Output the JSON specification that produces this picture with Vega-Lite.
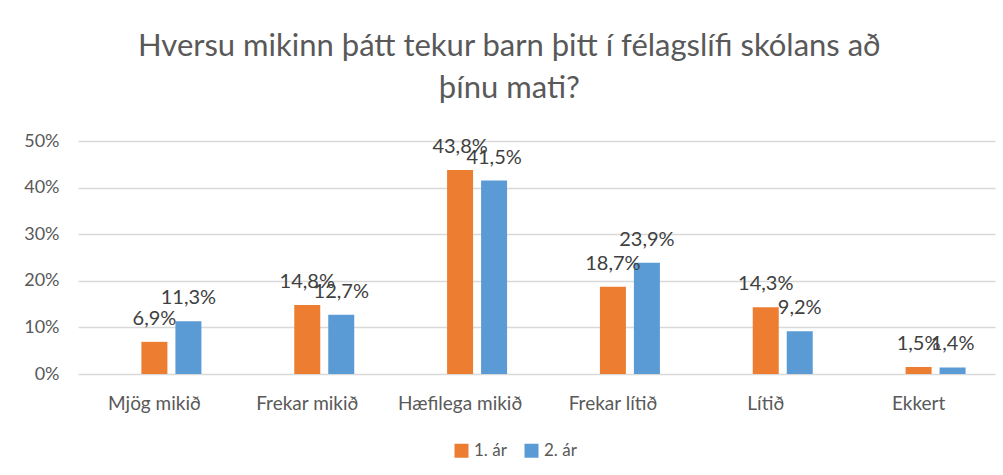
{
  "$schema": "https://vega.github.io/schema/vega-lite/v6.json",
  "width": 917,
  "height": 233,
  "autosize": {"type": "none"},
  "padding": {"left": 78, "top": 141, "right": 8, "bottom": 101},
  "background": "white",
  "config": {
    "locale": {"number": {"decimal": ",", "thousands": ".", "grouping": [3], "currency": ["", " kr."]}},
    "view": {"stroke": null},
    "font": "Lato"
  },
  "title": {
    "text": ["Hversu mikinn þátt tekur barn þitt í félagslífi skólans að", "þínu mati?"],
    "fontSize": 31,
    "font": "Lato",
    "fontWeight": "normal",
    "color": "#595959",
    "anchor": "middle",
    "frame": "bounds",
    "lineHeight": 42,
    "offset": 27
  },
  "data": {
    "values": [
      {"category": "Mjög mikið", "year": "1. ár", "value": 0.069},
      {"category": "Mjög mikið", "year": "2. ár", "value": 0.113},
      {"category": "Frekar mikið", "year": "1. ár", "value": 0.148},
      {"category": "Frekar mikið", "year": "2. ár", "value": 0.127},
      {"category": "Hæfilega mikið", "year": "1. ár", "value": 0.438},
      {"category": "Hæfilega mikið", "year": "2. ár", "value": 0.415},
      {"category": "Frekar lítið", "year": "1. ár", "value": 0.187},
      {"category": "Frekar lítið", "year": "2. ár", "value": 0.239},
      {"category": "Lítið", "year": "1. ár", "value": 0.143},
      {"category": "Lítið", "year": "2. ár", "value": 0.092},
      {"category": "Ekkert", "year": "1. ár", "value": 0.015},
      {"category": "Ekkert", "year": "2. ár", "value": 0.014}
    ]
  },
  "encoding": {
    "x": {
      "field": "category",
      "type": "nominal",
      "sort": ["Mjög mikið", "Frekar mikið", "Hæfilega mikið", "Frekar lítið", "Lítið", "Ekkert"],
      "scale": {"paddingInner": 0.385, "paddingOuter": 0.1925},
      "axis": {
        "title": null,
        "labelAngle": 0,
        "domain": false,
        "ticks": false,
        "labelPadding": 20,
        "labelFontSize": 19,
        "labelColor": "#595959",
        "labelFont": "Lato"
      }
    },
    "xOffset": {
      "field": "year",
      "type": "nominal",
      "scale": {"domain": ["_", "1. ár", "2. ár"], "paddingInner": 0.235, "paddingOuter": 0}
    },
    "y": {
      "field": "value",
      "type": "quantitative",
      "scale": {"domain": [0, 0.5]},
      "axis": {
        "title": null,
        "format": ".0%",
        "values": [0, 0.1, 0.2, 0.3, 0.4, 0.5],
        "domain": false,
        "ticks": false,
        "labelPadding": 19,
        "labelFontSize": 18,
        "labelColor": "#595959",
        "labelFont": "Lato",
        "gridColor": "#d9d9d9",
        "gridWidth": 1.5
      }
    }
  },
  "layer": [
    {
      "mark": {"type": "bar"},
      "encoding": {
        "color": {
          "field": "year",
          "type": "nominal",
          "scale": {"domain": ["1. ár", "2. ár"], "range": ["#ED7D31", "#5B9BD5"]},
          "legend": {
            "orient": "none",
            "legendX": 375,
            "legendY": 301,
            "title": null,
            "direction": "horizontal",
            "symbolType": "square",
            "symbolSize": 196,
            "symbolStrokeWidth": 0,
            "labelFontSize": 17,
            "labelColor": "#595959",
            "labelFont": "Lato",
            "columnPadding": 16,
            "labelOffset": 4
          }
        }
      }
    },
    {
      "mark": {"type": "text", "baseline": "middle", "dy": -23, "fontSize": 20, "color": "#404040", "font": "Lato"},
      "encoding": {
        "text": {"field": "value", "type": "quantitative", "format": ".1%"}
      }
    }
  ]
}
